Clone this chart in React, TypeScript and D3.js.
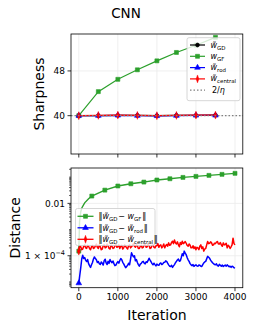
import React from "react";
import * as d3 from "d3";

// ---- data ----
const title = "CNN";

// top panel: sharpness, sampled every 500 iterations
const sharpIters = [0, 500, 1000, 1500, 2000, 2500, 3000, 3500];
const sharpGD = [40.0, 40.0, 40.05, 40.05, 40.0, 40.05, 40.05, 40.1];
const sharpGF = [40.0, 44.3, 46.5, 48.2, 49.8, 51.3, 52.6, 54.0];
const sharpRod = [40.0, 40.0, 40.05, 40.0, 39.95, 40.0, 40.05, 40.05];
const sharpCentral = [40.0, 40.05, 40.1, 40.05, 40.0, 40.05, 40.1, 40.1];
const twoOverEta = 40;
const sharpTicks = [40, 48];

// bottom panel: distances
const gfIters = [0, 20, 50, 80, 150, 250, 333, 667, 1000, 1333, 1667, 2000, 2333, 2667, 3000, 3333, 3667, 4000];
const gfDist = [1.5e-4, 0.002, 0.0048, 0.0068, 0.0105, 0.015, 0.019, 0.032, 0.046, 0.056, 0.065, 0.078, 0.087, 0.098, 0.107, 0.117, 0.128, 0.14];
const gfMarkIters = [0, 333, 667, 1000, 1333, 1667, 2000, 2333, 2667, 3000, 3333, 3667, 4000];

// noisy curves, every 25 iterations (values x 1e-5 / 1e-4)
const noiseIters = d3.range(0, 4001, 25);
const rodDist = [
  0.9, 1.8, 3.5, 7.5, 10.5, 7.8, 8.5, 6.8, 6, 7.2, 5, 4.2, 3.6, 4.5, 5.5, 7.5, 9, 7.8, 7, 5.5,
  6, 5.0, 4.6, 5.8, 5.2, 4.4, 6.5, 7.4, 5.3, 4.6, 6.2, 5.1, 7.2, 6.0, 5.4, 6.3, 5, 4.2, 4.4, 5.3,
  6, 5.2, 6.6, 7.8, 7, 5.6, 4.9, 4.1, 3.5, 3.9, 4.3, 5.2, 4.5, 7.5, 13, 10.5, 9, 10, 6.4, 7.2,
  5.5, 4.6, 4, 4.8, 5.1, 5.8, 6.1, 5.2, 4.9, 5.9, 5.6, 6.6, 8, 6.8, 5.9, 5.0, 4.5, 5.2, 4.6, 4.1,
  4.8, 4.4, 4.3, 5.0, 5.3, 4.6, 4.9, 5.5, 5.6, 6.4, 6.1, 5.2, 4.5, 4.0, 3.9, 4.3, 3.6, 4.1, 4.6, 5.4,
  6.1, 6.9, 7.5, 6.2, 6.4, 8.6, 12, 10, 15, 12.5, 11, 8.5, 7, 6.1, 5, 4.5, 4.2, 4.6, 3.9, 4.3,
  4.5, 4.1, 4.0, 4.4, 4.3, 4.0, 3.9, 4.6, 5.3, 5.8, 6.1, 7.6, 9.5, 8.8, 8, 6.8, 6, 5.4, 5, 4.6,
  4.5, 4.9, 4.2, 4.0, 4.7, 4.3, 4.0, 4.4, 3.9, 4.2, 4.4, 4.0, 4.5, 4.1, 3.8, 4.0, 3.6, 4.0, 3.8, 3.5,
  3.4,
].map((v) => v * 1e-5);
const centralDist = [
  1.5, 2.4, 2.2, 1.7, 1.8, 2.3, 2.6, 2.0, 1.9, 2.5, 2.3, 1.9, 1.7, 2.2, 2.5, 1.9, 2.0, 2.4, 2.8, 2.1,
  1.9, 2.6, 2.2, 1.7, 1.8, 2.4, 2.6, 2.0, 2.1, 2.8, 2.4, 1.9, 1.8, 2.5, 2.3, 1.9, 2.0, 2.4, 2.7, 2.1,
  2.2, 2.6, 1.9, 2.3, 2.5, 1.8, 2.0, 2.6, 2.3, 2.0, 1.8, 2.4, 2.6, 2.0, 2.2, 2.5, 2.9, 2.3, 2.1, 2.6,
  2.4, 1.9, 1.9, 2.3, 2.5, 2.0, 2.1, 2.6, 2.7, 2.1, 2.2, 2.8, 2.4, 1.9, 2.0, 2.5, 2.6, 2.1, 2.0, 2.4,
  2.4, 2.9, 2.1, 2.5, 2.6, 2.0, 2.3, 2.8, 2.0, 2.4, 2.7, 2.3, 3.1, 2.5, 2.6, 3.2, 3.6, 2.9, 4.0, 3.1,
  2.8, 3.4, 2.6, 2.2, 3.2, 2.7, 3.6, 2.9, 3.1, 3.5, 3.0, 2.5, 2.3, 2.8, 2.5, 2.0, 2.0, 2.4, 1.9, 2.2,
  1.7, 2.1, 2.0, 1.7, 2.3, 2.6, 1.9, 2.2, 1.5, 1.8, 1.9, 2.6, 3.5, 2.9, 3.0, 3.4, 3.1, 2.5, 2.6, 3.0,
  2.9, 3.3, 3.5, 2.8, 2.8, 3.2, 2.6, 2.3, 3.1, 2.6, 2.7, 3.0, 2.0, 2.5, 2.3, 1.9, 2.2, 2.6, 4.7, 2.9,
  2.6,
].map((v) => v * 1e-4);
const xTicks = [0, 1000, 2000, 3000, 4000];

const GREEN = "#2ca02c";
const FONT = "DejaVu Sans";

const W = 254;
const H = 330;
const left = 71;
const right = 242.8;
const top1 = 34;
const bot1 = 154;
const top2 = 168;
const bot2 = 287.7;

const x = d3.scaleLinear().domain([-200, 4200]).range([left, right]);
const y1 = d3.scaleLinear().domain([33.15, 54.6]).range([bot1, top1]);
const y2 = d3.scaleLog().domain([Math.pow(10, -5.22), Math.pow(10, -0.65)]).range([bot2, top2]);

const sym = (type: any, size: number) => d3.symbol().type(type).size(size)() as string;
const shapes: any = {
  circle: sym(d3.symbolCircle, 12),
  square: sym(d3.symbolSquare, 16),
  tri: sym(d3.symbolTriangle, 14),
  diamond: sym(d3.symbolDiamond, 18),
};

const Marker = ({ kind, color, cx, cy }: any) => {
  const t = kind === "diamond" ? `translate(${cx},${cy}) scale(0.6,1)` : `translate(${cx},${cy})`;
  return <path d={shapes[kind]} transform={t} fill={color} stroke={color} strokeWidth={0.6} />;
};

// w̃ with subscript
const W_ = ({ sub, tilde = true, fs }: any) => (
  <>
    <tspan fontStyle="italic">{tilde ? "w\u0303" : "w"}</tspan>
    <tspan fontSize={fs * 0.68} dy={2}>{sub}</tspan>
    <tspan dy={-2}>{"\u200a"}</tspan>
  </>
);

export default function App() {
  const line1 = (vals: number[]) =>
    d3.line<number>().x((_, i) => x(sharpIters[i])).y((v) => y1(v))(vals) as string;
  const line2 = (iters: number[], vals: number[]) =>
    d3.line<number>().x((_, i) => x(iters[i])).y((v) => y2(v))(vals) as string;

  const topSeries = [
    { vals: sharpGD, color: "black", kind: "circle" },
    { vals: sharpGF, color: GREEN, kind: "square" },
    { vals: sharpRod, color: "blue", kind: "tri" },
    { vals: sharpCentral, color: "red", kind: "diamond" },
  ];

  const minorTicks: number[] = [];
  for (let k = -6; k <= 0; k++) for (let m = 1; m <= 9; m++) {
    const v = m * Math.pow(10, k);
    const [a, b] = y2.domain();
    if (v >= a && v <= b && !(m === 1 && (k === -2 || k === -4))) minorTicks.push(v);
  }
  const majorLog = [1e-2, 1e-4];

  const topLegend = [
    { color: "black", kind: "circle", label: <W_ sub="GD" fs={8} /> },
    { color: GREEN, kind: "square", label: <W_ sub="GF" tilde={false} fs={8} /> },
    { color: "blue", kind: "tri", label: <W_ sub="rod" fs={8} /> },
    { color: "red", kind: "diamond", label: <W_ sub="central" fs={8} /> },
  ];
  const botLegend = [
    { color: GREEN, kind: "square", sub: "GF", tilde: false },
    { color: "blue", kind: "tri", sub: "rod", tilde: true },
    { color: "red", kind: "diamond", sub: "central", tilde: true },
  ];

  return (
    <svg width={W} height={H} style={{ position: "absolute", left: 0, top: 0, background: "white" }} fontFamily={FONT}>
      <text x={126} y={18} fontSize={13.5} textAnchor="middle">{title}</text>

      {/* ---------- top panel ---------- */}
      <g>
        {xTicks.map((t) => (
          <line key={t} x1={x(t)} x2={x(t)} y1={top1} y2={bot1} stroke="#ebebeb" strokeWidth={0.8} />
        ))}
        {sharpTicks.map((t) => (
          <line key={t} x1={left} x2={right} y1={y1(t)} y2={y1(t)} stroke="#ebebeb" strokeWidth={0.8} />
        ))}
        {topSeries.map((s) => (
          <g key={s.color}>
            <path d={line1(s.vals)} fill="none" stroke={s.color} strokeWidth={1.2} />
            {s.vals.map((v, i) => (
              <Marker key={i} kind={s.kind} color={s.color} cx={x(sharpIters[i])} cy={y1(v)} />
            ))}
          </g>
        ))}
        <line x1={left} x2={right} y1={y1(twoOverEta)} y2={y1(twoOverEta)} stroke="gray" strokeWidth={1.2} strokeDasharray="1.5,2" />
        <rect x={left} y={top1} width={right - left} height={bot1 - top1} fill="none" stroke="black" strokeWidth={0.8} />
        {xTicks.map((t) => (
          <line key={t} x1={x(t)} x2={x(t)} y1={bot1} y2={bot1 + 3.5} stroke="black" strokeWidth={0.8} />
        ))}
        {sharpTicks.map((t) => (
          <g key={t}>
            <line x1={left - 3.5} x2={left} y1={y1(t)} y2={y1(t)} stroke="black" strokeWidth={0.8} />
            <text x={left - 6} y={y1(t)} dy="0.35em" fontSize={9} textAnchor="end">{t}</text>
          </g>
        ))}
        <text transform={`translate(44,${(top1 + bot1) / 2}) rotate(-90)`} fontSize={14} textAnchor="middle">Sharpness</text>

        {/* legend */}
        <rect x={187} y={37.7} width={53} height={63} rx={2} fill="white" fillOpacity={0.8} stroke="#cccccc" strokeWidth={0.8} />
        {topLegend.map((e, i) => {
          const yy = 45 + i * 11.3;
          return (
            <g key={i}>
              <line x1={190} x2={205} y1={yy} y2={yy} stroke={e.color} strokeWidth={1.2} />
              <Marker kind={e.kind} color={e.color} cx={197.5} cy={yy} />
              <text x={210.5} y={yy + 2.5} fontSize={8}>{e.label}</text>
            </g>
          );
        })}
        <line x1={190} x2={205} y1={90.2} y2={90.2} stroke="gray" strokeWidth={1.2} strokeDasharray="1.5,2" />
        <text x={212} y={92.8} fontSize={8}>2/<tspan fontStyle="italic">η</tspan></text>
      </g>

      {/* ---------- bottom panel ---------- */}
      <g>
        {xTicks.map((t) => (
          <line key={t} x1={x(t)} x2={x(t)} y1={top2} y2={bot2} stroke="#ebebeb" strokeWidth={0.8} />
        ))}
        {majorLog.map((t) => (
          <line key={t} x1={left} x2={right} y1={y2(t)} y2={y2(t)} stroke="#ebebeb" strokeWidth={0.8} />
        ))}
        <path d={line2(gfIters, gfDist)} fill="none" stroke={GREEN} strokeWidth={1.4} />
        {gfMarkIters.map((t) => {
          const i = gfIters.indexOf(t);
          return <Marker key={t} kind="square" color={GREEN} cx={x(t)} cy={y2(gfDist[i])} />;
        })}
        <path d={line2(noiseIters, rodDist)} fill="none" stroke="blue" strokeWidth={1.5} strokeLinejoin="round" />
        <Marker kind="tri" color="blue" cx={x(0)} cy={y2(rodDist[0])} />
        <path d={line2(noiseIters, centralDist)} fill="none" stroke="red" strokeWidth={1.5} strokeLinejoin="round" />
        <Marker kind="diamond" color="red" cx={x(0)} cy={y2(centralDist[0])} />

        <rect x={left} y={top2} width={right - left} height={bot2 - top2} fill="none" stroke="black" strokeWidth={0.8} />
        {xTicks.map((t) => (
          <g key={t}>
            <line x1={x(t)} x2={x(t)} y1={bot2} y2={bot2 + 3.5} stroke="black" strokeWidth={0.8} />
            <text x={x(t)} y={300} fontSize={9} textAnchor="middle">{t}</text>
          </g>
        ))}
        {minorTicks.map((t) => (
          <line key={t} x1={left - 2} x2={left} y1={y2(t)} y2={y2(t)} stroke="black" strokeWidth={0.6} />
        ))}
        {majorLog.map((t) => (
          <line key={t} x1={left - 3.5} x2={left} y1={y2(t)} y2={y2(t)} stroke="black" strokeWidth={0.8} />
        ))}
        <text x={left - 6} y={y2(1e-2)} dy="0.35em" fontSize={9} textAnchor="end">0.01</text>
        <text x={left - 6} y={y2(1e-4)} dy="0.35em" fontSize={9} textAnchor="end">
          1 × 10<tspan fontSize={6.5} dy={-4}>−4</tspan>
        </text>
        <text transform={`translate(19.5,${(top2 + bot2) / 2}) rotate(-90)`} fontSize={14} textAnchor="middle">Distance</text>
        <text x={157} y={320} fontSize={14} textAnchor="middle">Iteration</text>

        {/* legend */}
        <rect x={75.5} y={208.5} width={79.5} height={37} rx={2} fill="white" fillOpacity={0.8} stroke="#cccccc" strokeWidth={0.8} />
        {botLegend.map((e, i) => {
          const yy = 216.3 + i * 11.5;
          return (
            <g key={i}>
              <line x1={77.5} x2={93.5} y1={yy} y2={yy} stroke={e.color} strokeWidth={1.3} />
              <Marker kind={e.kind} color={e.color} cx={85.5} cy={yy} />
              <text x={98.5} y={yy + 2.8} fontSize={8}>
                ‖<W_ sub="GD" fs={8} />−{" "}<W_ sub={e.sub} tilde={e.tilde} fs={8} />‖
              </text>
            </g>
          );
        })}
      </g>
    </svg>
  );
}
